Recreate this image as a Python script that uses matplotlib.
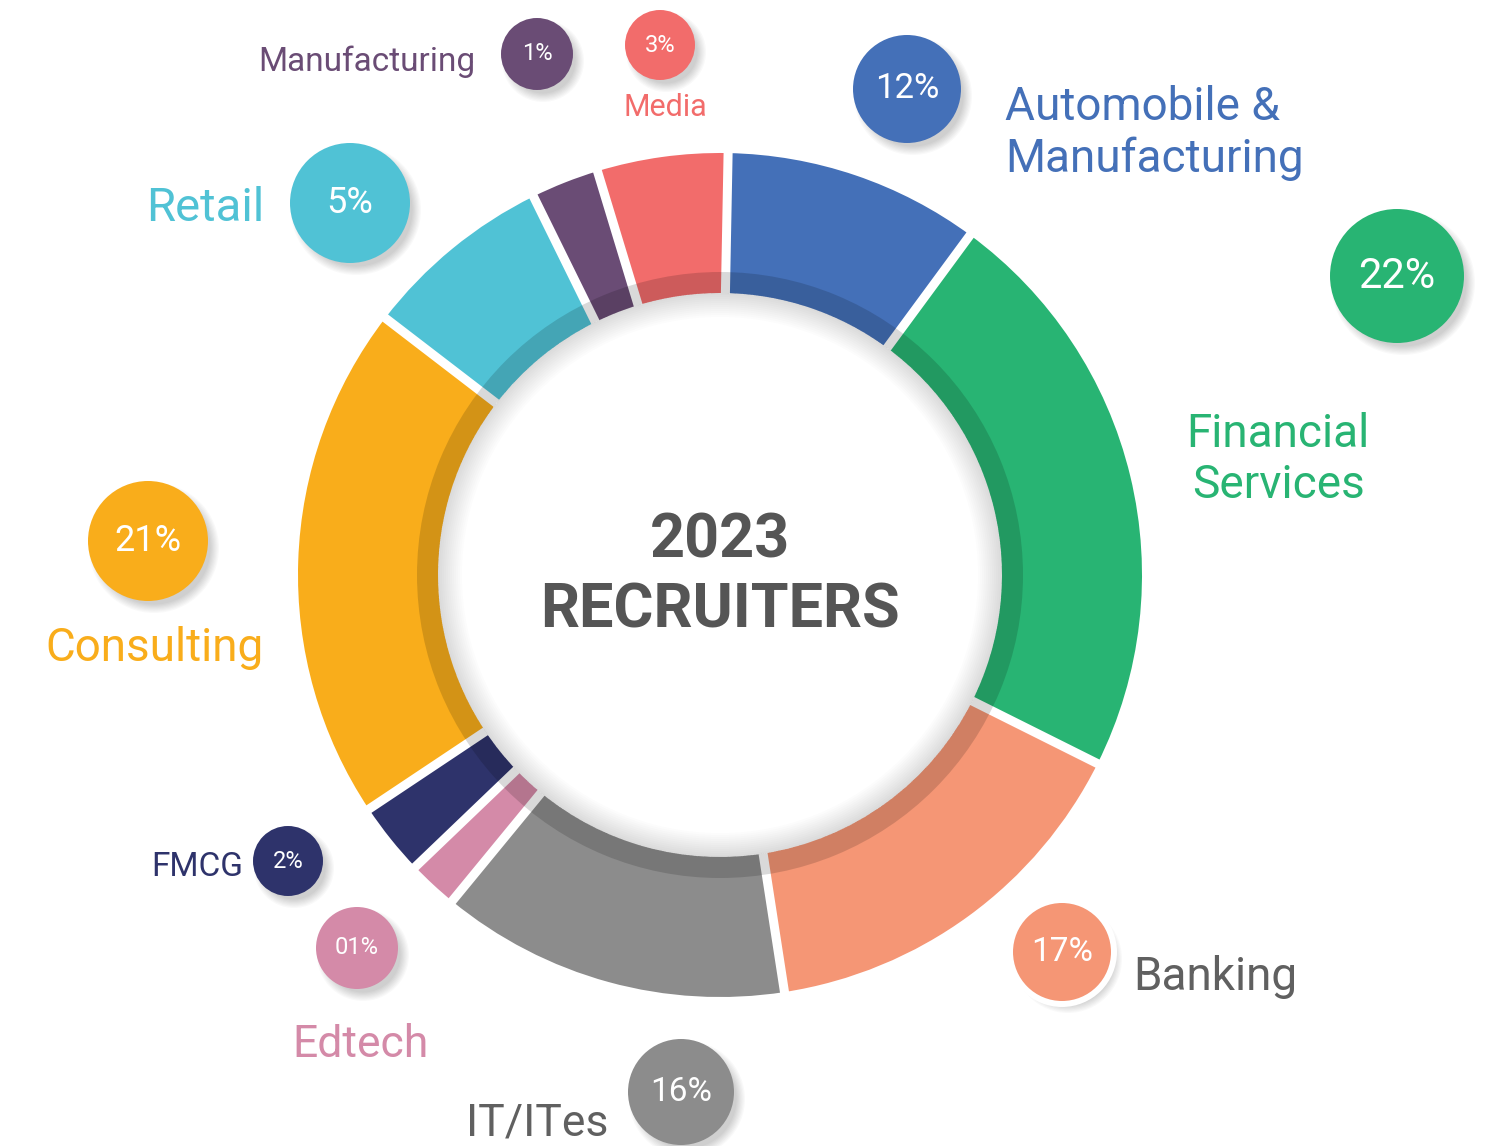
import numpy as np
import matplotlib
matplotlib.use("Agg")
import matplotlib.pyplot as plt
from matplotlib.patches import Circle, Wedge

# data, clockwise from the top
sectors = ["Automobile & Manufacturing", "Financial Services", "Banking", "IT/ITes",
           "Edtech", "FMCG", "Consulting", "Retail", "Manufacturing", "Media"]
# wedge sizes as drawn in the picture (percent of the ring)
wedge_share = [9.8, 22.3, 15.2, 13.4, 1.9, 2.8, 19.8, 7.3, 2.6, 5.0]
# percentages printed in the bubbles
pct_labels = ["12%", "22%", "17%", "16%", "01%", "2%", "21%", "5%", "1%", "3%"]
colors = ["#4470B8", "#28B473", "#F59675", "#8C8C8C", "#D48AA8",
          "#2E336B", "#F9AD1B", "#50C2D5", "#6A4C75", "#F26C6B"]
text_colors = ["#4470B8", "#28B473", "#606060", "#606060", "#D48AA8",
               "#2E336B", "#F9AD1B", "#50C2D5", "#6A4C75", "#F26C6B"]

W, H = 1502, 1146
cx, cy = 720, 575
r_out, r_in = 422, 282
start = -88.9  # y axis is flipped, so angles run mirrored

fig = plt.figure(figsize=(W / 100, H / 100), dpi=100)
ax = fig.add_axes([0, 0, 1, 1])

ax.pie(wedge_share, colors=colors, startangle=start, counterclock=True,
       radius=r_out, center=(cx, cy), frame=True,
       wedgeprops=dict(width=r_out - r_in, linewidth=0))

# white gaps between the wedges
bounds = start + 360 * np.cumsum([0] + wedge_share[:-1]) / np.sum(wedge_share)
for a in np.deg2rad(bounds):
    ax.plot([cx + (r_in - 2) * np.cos(a), cx + (r_out + 3) * np.cos(a)],
            [cy + (r_in - 2) * np.sin(a), cy + (r_out + 3) * np.sin(a)],
            color="white", lw=6.5, solid_capstyle="butt", zorder=2)

# darker inner band of the ring
ax.add_patch(Wedge((cx, cy), 303, 0, 360, width=21, facecolor="black",
                   alpha=0.15, lw=0, zorder=3))
# soft shadow inside the hole
for k in range(12):
    ax.add_patch(Wedge((cx, cy), r_in, 0, 360, width=2 + 2 * k,
                       facecolor="black", alpha=0.013, lw=0, zorder=3))

# bubbles: (x, y, radius, pct fontsize)
bubbles = [(907, 89, 54, 25), (1397, 276, 67, 30), (1062, 952, 49, 24),
           (681, 1092, 53, 24), (357, 948, 41, 17), (288, 861, 35, 17),
           (148, 541, 60, 26), (350, 203, 60, 26), (537, 54, 36, 17),
           (660, 45, 35, 17)]

for i, (bx, by, r, fs) in enumerate(bubbles):
    for k in range(8):
        ax.add_patch(Circle((bx + 6, by + 7), r + 5 - k * 1.2, facecolor="black",
                            alpha=0.025, lw=0, zorder=4))
    if sectors[i] == "Banking":
        ax.add_patch(Circle((bx, by), r + 6, facecolor="white", lw=0, zorder=5))
    ax.add_patch(Circle((bx, by), r, facecolor=colors[i], lw=0, zorder=6))
    ax.text(bx, by, pct_labels[i], color="white", fontsize=fs, ha="center",
            va="center", family="Roboto", zorder=7)

# category labels: (x, baseline of last line, ha, fontsize, text)
labels = [(1005, 172, "left", 33, "Automobile &\nManufacturing"),
          (1278, 498, "center", 33, "Financial\nServices"),
          (1133, 990, "left", 33, "Banking"),
          (466, 1135, "left", 32, "IT/ITes"),
          (361, 1057, "center", 32, "Edtech"),
          (243, 876, "right", 24, "FMCG"),
          (155, 661, "center", 33, "Consulting"),
          (264, 221, "right", 34, "Retail"),
          (475, 71, "right", 24, "Manufacturing"),
          (665, 116, "center", 22, "Media")]

for i, (lx, ly, ha, fs, txt) in enumerate(labels):
    ax.text(lx, ly, txt, color=text_colors[i], fontsize=fs, ha=ha, va="baseline",
            family="Roboto", linespacing=1.2, zorder=7, multialignment=ha)

ax.text(cx, 540, "2023", color="#555555", fontsize=44, ha="center", va="center",
        family="Roboto", weight="bold")
ax.text(cx, 611, "RECRUITERS", color="#555555", fontsize=44, ha="center",
        va="center", family="Roboto", weight="bold")

ax.set_xlim(0, W)
ax.set_ylim(H, 0)
ax.set_aspect("equal")
ax.axis("off")

fig.savefig("out.png", dpi=100, facecolor="white")
